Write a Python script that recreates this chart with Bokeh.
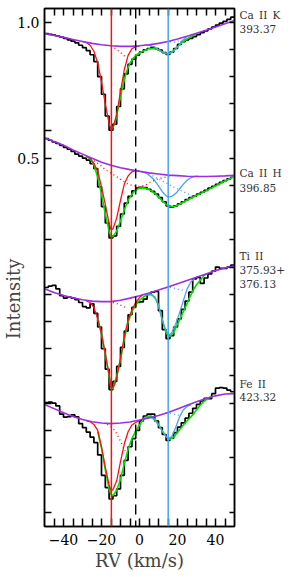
from bokeh.plotting import figure
from bokeh.models import Range1d, LinearAxis, FixedTicker, Span
from bokeh.embed import file_html
from bokeh.resources import INLINE

# ---------------- data ----------------
rv_bins = [-51, -49, -47, -45, -43, -41, -39, -37, -35, -33, -31, -29, -27, -25, -23, -21,
           -19, -17, -15, -13, -11, -9, -7, -5, -3, -1, 1, 3, 5, 7, 9, 11, 13, 15, 17, 19,
           21, 23, 25, 27, 29, 31, 33, 35, 37, 39, 41, 43, 45, 47, 49, 51]

flux_cak = [0.960, 0.958, 0.955, 0.952, 0.949, 0.945, 0.940, 0.935, 0.930, 0.924, 0.915, 0.906,
            0.895, 0.880, 0.855, 0.800, 0.735, 0.655, 0.603, 0.625, 0.690, 0.755, 0.810, 0.845,
            0.864, 0.879, 0.890, 0.898, 0.903, 0.907, 0.903, 0.897, 0.888, 0.881, 0.890, 0.903,
            0.918, 0.928, 0.935, 0.940, 0.947, 0.954, 0.961, 0.968, 0.975, 0.982, 0.989, 0.996,
            1.003, 1.010, 1.018, 1.022]
flux_cah = [0.576, 0.572, 0.566, 0.560, 0.554, 0.547, 0.540, 0.533, 0.525, 0.515, 0.508, 0.500,
            0.493, 0.480, 0.462, 0.395, 0.322, 0.262, 0.207, 0.215, 0.250, 0.295, 0.335, 0.360,
            0.380, 0.390, 0.393, 0.392, 0.386, 0.378, 0.368, 0.355, 0.340, 0.325, 0.320, 0.325,
            0.332, 0.340, 0.348, 0.355, 0.361, 0.368, 0.375, 0.382, 0.390, 0.397, 0.404, 0.411,
            0.418, 0.424, 0.430, 0.433]
flux_ti = [0.020, 0.025, 0.030, 0.033, 0.020, -0.005, -0.014, -0.010, -0.014, -0.020, -0.030,
           -0.045, -0.050, -0.035, -0.070, -0.120, -0.200, -0.275, -0.350, -0.320, -0.265, -0.195,
           -0.135, -0.075, -0.048, -0.030, -0.028, -0.018, 0.000, 0.008, 0.011, -0.060, -0.130,
           -0.163, -0.152, -0.120, -0.090, -0.055, -0.025, 0.008, 0.057, 0.062, 0.040, 0.060,
           0.075, 0.085, 0.100, 0.095, 0.095, 0.100, 0.107, 0.107]
flux_fe = [-0.402, -0.398, -0.396, -0.400, -0.410, -0.440, -0.451, -0.449, -0.443, -0.450, -0.475,
           -0.490, -0.506, -0.525, -0.545, -0.590, -0.665, -0.710, -0.752, -0.740, -0.715, -0.665,
           -0.610, -0.560, -0.530, -0.500, -0.465, -0.447, -0.440, -0.440, -0.465, -0.490, -0.515,
           -0.537, -0.528, -0.508, -0.488, -0.472, -0.455, -0.437, -0.419, -0.404, -0.392, -0.382,
           -0.383, -0.365, -0.345, -0.343, -0.345, -0.352, -0.358, -0.360]

cont_rv = [-50, -45, -40, -35, -30, -25, -20, -15, -10, -5, 0, 5, 10, 15, 20, 25, 30, 35, 40, 45, 50]
cont_cak = [0.958, 0.951, 0.944, 0.936, 0.929, 0.922, 0.917, 0.913, 0.911, 0.911, 0.913, 0.917,
            0.922, 0.929, 0.938, 0.948, 0.959, 0.970, 0.982, 0.994, 1.006]
cont_cah = [0.575, 0.561, 0.548, 0.530, 0.515, 0.500, 0.485, 0.474, 0.465, 0.458, 0.452, 0.446,
            0.442, 0.438, 0.436, 0.434, 0.433, 0.433, 0.434, 0.435, 0.437]
cont_ti = [0.020, 0.007, -0.004, -0.013, -0.020, -0.025, -0.027, -0.027, -0.022, -0.014, -0.005,
           0.005, 0.016, 0.027, 0.039, 0.051, 0.063, 0.075, 0.087, 0.097, 0.105]
cont_fe = [-0.405, -0.420, -0.435, -0.449, -0.460, -0.468, -0.473, -0.475, -0.473, -0.469, -0.462,
           -0.454, -0.445, -0.434, -0.421, -0.408, -0.395, -0.383, -0.373, -0.366, -0.365]

# Ca II K fit components
red_rv_cak = [-30, -28, -26, -24, -22, -20, -18, -16, -15, -14, -12, -10, -8, -6, -4, -2, 0]
red_cak = [0.929, 0.925, 0.915, 0.893, 0.850, 0.780, 0.700, 0.628, 0.606, 0.612, 0.660, 0.745,
           0.825, 0.878, 0.902, 0.910, 0.913]
reddot_rv_cak = [-15, -13, -11, -9, -7]
reddot_cak = [0.912, 0.904, 0.894, 0.882, 0.870]
blue_rv_cak = [3, 6, 9, 11, 13, 15, 17, 19, 21, 23, 25]
blue_cak = [0.916, 0.914, 0.904, 0.895, 0.887, 0.883, 0.888, 0.900, 0.917, 0.935, 0.947]
bluedot_rv_cak = [16, 18, 20, 22]
bluedot_cak = [0.928, 0.926, 0.930, 0.937]
green_rv_cak = [-15, -13, -11, -9, -7, -5, -3, -1, 1, 3, 5, 7, 9, 11, 13, 15, 17, 19, 21, 23, 25,
                27, 30]
green_cak = [0.603, 0.625, 0.690, 0.760, 0.815, 0.850, 0.870, 0.882, 0.890, 0.897, 0.902, 0.903,
             0.900, 0.894, 0.887, 0.883, 0.890, 0.903, 0.916, 0.928, 0.938, 0.946, 0.957]

# Ca II H fit components
red_rv_cah = [-28, -26, -24, -22, -20, -18, -16, -15, -14, -12, -10, -8, -6, -4, -2, 0]
red_cah = [0.508, 0.500, 0.480, 0.452, 0.395, 0.330, 0.260, 0.238, 0.240, 0.280, 0.345, 0.405,
           0.435, 0.450, 0.455, 0.452]
reddot_rv_cah = [-24, -21, -18, -15, -12, -9, -6, -3, 0, 3, 6, 9, 12, 15, 17]
reddot_cah = [0.490, 0.477, 0.458, 0.445, 0.432, 0.418, 0.405, 0.398, 0.396, 0.400, 0.413, 0.422,
              0.428, 0.432, 0.434]
blue_rv_cah = [0, 2, 4, 6, 8, 10, 12, 14, 15.5, 17, 19, 21, 23, 25, 27, 29, 31]
blue_cah = [0.452, 0.449, 0.443, 0.432, 0.418, 0.398, 0.377, 0.362, 0.358, 0.360, 0.370, 0.386,
            0.404, 0.419, 0.428, 0.433, 0.434]
bluedot_rv_cah = [5, 8, 11, 14, 17, 20, 23, 26, 28]
bluedot_cah = [0.444, 0.431, 0.420, 0.409, 0.398, 0.388, 0.377, 0.367, 0.362]
green_rv_cah = [-28, -26, -24, -22, -20, -18, -16, -15, -14, -12, -10, -8, -6, -4, -2, 0, 2, 4, 6,
                8, 10, 12, 14, 16, 18, 20, 23, 26, 30, 35, 40, 45, 50]
green_cah = [0.508, 0.498, 0.476, 0.430, 0.368, 0.295, 0.232, 0.212, 0.212, 0.232, 0.270, 0.310,
             0.345, 0.368, 0.383, 0.390, 0.391, 0.388, 0.381, 0.371, 0.358, 0.343, 0.330, 0.323,
             0.322, 0.327, 0.338, 0.349, 0.363, 0.380, 0.398, 0.416, 0.433]

# Ti II fit components
red_rv_ti = [-28, -26, -24, -22, -20, -18, -16, -15, -14, -13, -12, -10, -8, -6, -4, -2, 0, 2]
red_ti = [-0.024, -0.030, -0.048, -0.090, -0.145, -0.220, -0.295, -0.340, -0.343, -0.330, -0.305,
          -0.235, -0.155, -0.095, -0.058, -0.030, -0.012, 0.000]
reddot_rv_ti = [-14, -12, -10, -8, -6.5]
reddot_ti = [-0.030, -0.034, -0.040, -0.046, -0.050]
blue_rv_ti = [3, 5, 7, 9, 11, 13, 15, 16, 17, 19, 21, 23, 25, 27, 29]
blue_ti = [0.001, 0.003, -0.005, -0.022, -0.068, -0.118, -0.146, -0.147, -0.140, -0.110, -0.070,
           -0.025, 0.018, 0.045, 0.058]
bluedot_rv_ti = [14, 16, 18, 20, 22, 24]
bluedot_ti = [0.025, 0.026, 0.023, 0.019, 0.016, 0.014]
green_rv_ti = [-22, -20, -18, -16, -15, -14, -12, -10, -8, -6, -4, -2, 0, 2, 4, 6, 8, 10, 12, 14,
               15, 16, 18, 20, 22, 24, 26, 28, 30, 32, 34, 36]
green_ti = [-0.090, -0.145, -0.220, -0.300, -0.345, -0.347, -0.300, -0.240, -0.165, -0.103, -0.063,
            -0.038, -0.022, -0.010, -0.002, 0.001, -0.010, -0.040, -0.095, -0.140, -0.152, -0.155,
            -0.140, -0.110, -0.080, -0.050, -0.018, 0.012, 0.035, 0.052, 0.069, 0.077]

# Fe II fit components
red_rv_fe = [-28, -26, -24, -22, -20, -18, -16, -15, -14, -12, -10, -8, -6, -4, -2, 0]
red_fe = [-0.465, -0.468, -0.478, -0.500, -0.560, -0.635, -0.700, -0.720, -0.718, -0.685, -0.615,
          -0.550, -0.505, -0.480, -0.471, -0.463]
reddot_rv_fe = [-17, -15, -13, -11, -9, -7.5]
reddot_fe = [-0.478, -0.486, -0.500, -0.525, -0.555, -0.575]
blue_rv_fe = [2, 4, 6, 8, 10, 12, 14, 15.5, 17, 19, 21, 23, 25, 27]
blue_fe = [-0.455, -0.452, -0.452, -0.462, -0.480, -0.503, -0.523, -0.530, -0.522, -0.490, -0.452,
           -0.425, -0.412, -0.406]
bluedot_rv_fe = [14, 16, 18, 20, 21.5]
bluedot_fe = [-0.436, -0.437, -0.440, -0.443, -0.447]
green_rv_fe = [-22, -20, -18, -16, -15, -14, -12, -10, -8, -6, -4, -2, 0, 2, 4, 6, 8, 10, 12, 14,
               15, 16, 18, 20, 22, 24, 26, 28, 30, 32, 34, 36, 38]
green_fe = [-0.505, -0.565, -0.645, -0.715, -0.735, -0.740, -0.720, -0.680, -0.622, -0.570, -0.530,
            -0.503, -0.480, -0.460, -0.448, -0.447, -0.458, -0.478, -0.502, -0.522, -0.530, -0.532,
            -0.525, -0.507, -0.490, -0.473, -0.458, -0.443, -0.425, -0.407, -0.393, -0.382, -0.376]

# component velocities (km/s) and systemic velocity
comp_red_rv = -14.8
comp_blue_rv = 15.1
systemic_rv = -2.0

# line identifications shown at the right edge (text, intensity level)
line_label_text = ["Ca\u2002II\u2002K", "393.37", "Ca\u2002II\u2002H", "396.85", "Ti\u2002II",
                   "375.93+", "376.13", "Fe\u2002II", "423.32"]
line_label_level = [1.026, 0.974, 0.444, 0.392, 0.140, 0.091, 0.037, -0.331, -0.378]

x_major = [-40, -20, 0, 20, 40]
x_major_text = ["\u221240", "\u221220", "0", "20", "40"]
x_minor = [-45, -35, -30, -25, -15, -10, -5, 5, 10, 15, 25, 30, 35, 45]
x_all = [-45, -40, -35, -30, -25, -20, -15, -10, -5, 0, 5, 10, 15, 20, 25, 30, 35, 40, 45]
y_major = [0.5, 1.0]
y_major_text = ["0.5", "1.0"]
y_minor = [-0.8, -0.7, -0.6, -0.5, -0.4, -0.3, -0.2, -0.1, 0.0, 0.1, 0.2, 0.3, 0.4, 0.6, 0.7,
           0.8, 0.9]
y_all = [-0.8, -0.7, -0.6, -0.5, -0.4, -0.3, -0.2, -0.1, 0.0, 0.1, 0.2, 0.3, 0.4, 0.5, 0.6, 0.7,
         0.8, 0.9, 1.0]

# ---------------- figure ----------------
SERIF = "DejaVu Serif"
PURPLE = "#9b2fe3"
RED = "#ff1010"
BLUE = "#4aa2f2"
GREEN = "#00e000"

p = figure(width=291, height=577, x_range=Range1d(-50, 50), y_range=Range1d(-0.853, 1.050),
           output_backend="svg", toolbar_location=None,
           min_border_left=43, min_border_right=57, min_border_top=8, min_border_bottom=51)
p.grid.visible = False
p.outline_line_color = "black"
p.outline_line_width = 1.5
p.background_fill_color = "white"
p.border_fill_color = "white"


def style_axis(ax, tick_len):
    ax.axis_line_width = 1.5
    ax.major_tick_line_width = 1.5
    ax.minor_tick_line_width = 1.5
    ax.major_tick_in = tick_len
    ax.major_tick_out = 0
    ax.minor_tick_in = tick_len
    ax.minor_tick_out = 0
    ax.major_label_text_font = SERIF
    ax.major_label_text_color = "black"
    ax.major_label_text_font_size = "14px"


p.xaxis.ticker = FixedTicker(ticks=x_major, minor_ticks=x_minor)
p.yaxis.ticker = FixedTicker(ticks=y_major, minor_ticks=y_minor)
p.xaxis.major_label_overrides = dict(zip(x_major, x_major_text))
p.yaxis.major_label_overrides = dict(zip(y_major, y_major_text))
style_axis(p.xaxis[0], 8)
style_axis(p.yaxis[0], 7)
p.xaxis.major_label_standoff = 7
p.yaxis.major_label_standoff = 5

p.xaxis.axis_label = "RV (km/s)"
p.xaxis.axis_label_text_font = SERIF
p.xaxis.axis_label_text_font_size = "18px"
p.xaxis.axis_label_text_font_style = "normal"
p.xaxis.axis_label_standoff = 2

# trailing no-break spaces shift the visible word down to where the reference has it
p.yaxis.axis_label = "Intensity" + "\u00a0" * 11
p.yaxis.axis_label_text_font = SERIF
p.yaxis.axis_label_text_font_size = "18px"
p.yaxis.axis_label_text_font_style = "normal"
p.yaxis.axis_label_standoff = -10

# top axis: ticks only
ax_top = LinearAxis(ticker=FixedTicker(ticks=[], minor_ticks=x_all))
style_axis(ax_top, 7)
ax_top.major_label_standoff = 0
p.add_layout(ax_top, "above")

# right axis: short ticks every 0.1 plus the line identifications as labels
ax_right = LinearAxis(ticker=FixedTicker(ticks=line_label_level, minor_ticks=y_all))
style_axis(ax_right, 5)
ax_right.major_tick_in = 0
ax_right.major_label_text_font_size = "10.5px"
ax_right.major_label_text_color = "#333333"
ax_right.major_label_standoff = 5
ax_right.major_label_overrides = dict(zip(line_label_level, line_label_text))
p.add_layout(ax_right, "right")

spectra = [
    dict(flux=flux_cak, cont=cont_cak, red=(red_rv_cak, red_cak), reddot=(reddot_rv_cak, reddot_cak),
         blue=(blue_rv_cak, blue_cak), bluedot=(bluedot_rv_cak, bluedot_cak),
         green=(green_rv_cak, green_cak)),
    dict(flux=flux_cah, cont=cont_cah, red=(red_rv_cah, red_cah), reddot=(reddot_rv_cah, reddot_cah),
         blue=(blue_rv_cah, blue_cah), bluedot=(bluedot_rv_cah, bluedot_cah),
         green=(green_rv_cah, green_cah)),
    dict(flux=flux_ti, cont=cont_ti, red=(red_rv_ti, red_ti), reddot=(reddot_rv_ti, reddot_ti),
         blue=(blue_rv_ti, blue_ti), bluedot=(bluedot_rv_ti, bluedot_ti),
         green=(green_rv_ti, green_ti)),
    dict(flux=flux_fe, cont=cont_fe, red=(red_rv_fe, red_fe), reddot=(reddot_rv_fe, reddot_fe),
         blue=(blue_rv_fe, blue_fe), bluedot=(bluedot_rv_fe, bluedot_fe),
         green=(green_rv_fe, green_fe)),
]

for s in spectra:
    p.step(rv_bins, s["flux"], mode="center", line_color="black", line_width=1.7)
    p.line(*s["green"], line_color=GREEN, line_width=1.6)
    p.line(*s["red"], line_color=RED, line_width=1.3)
    p.line(*s["blue"], line_color=BLUE, line_width=1.3)
    p.line(*s["reddot"], line_color=RED, line_width=1.4, line_dash="1 3")
    p.line(*s["bluedot"], line_color=BLUE, line_width=1.4, line_dash="1 3")
    p.line(cont_rv, s["cont"], line_color=PURPLE, line_width=1.6)

p.add_layout(Span(location=comp_red_rv, dimension="height", line_color=RED, line_width=1.5))
p.add_layout(Span(location=comp_blue_rv, dimension="height", line_color=BLUE, line_width=1.5))
p.add_layout(Span(location=systemic_rv, dimension="height", line_color="black", line_width=1.4,
                  line_dash="10 6"))

open("out.html", "w").write(file_html(p, INLINE))
